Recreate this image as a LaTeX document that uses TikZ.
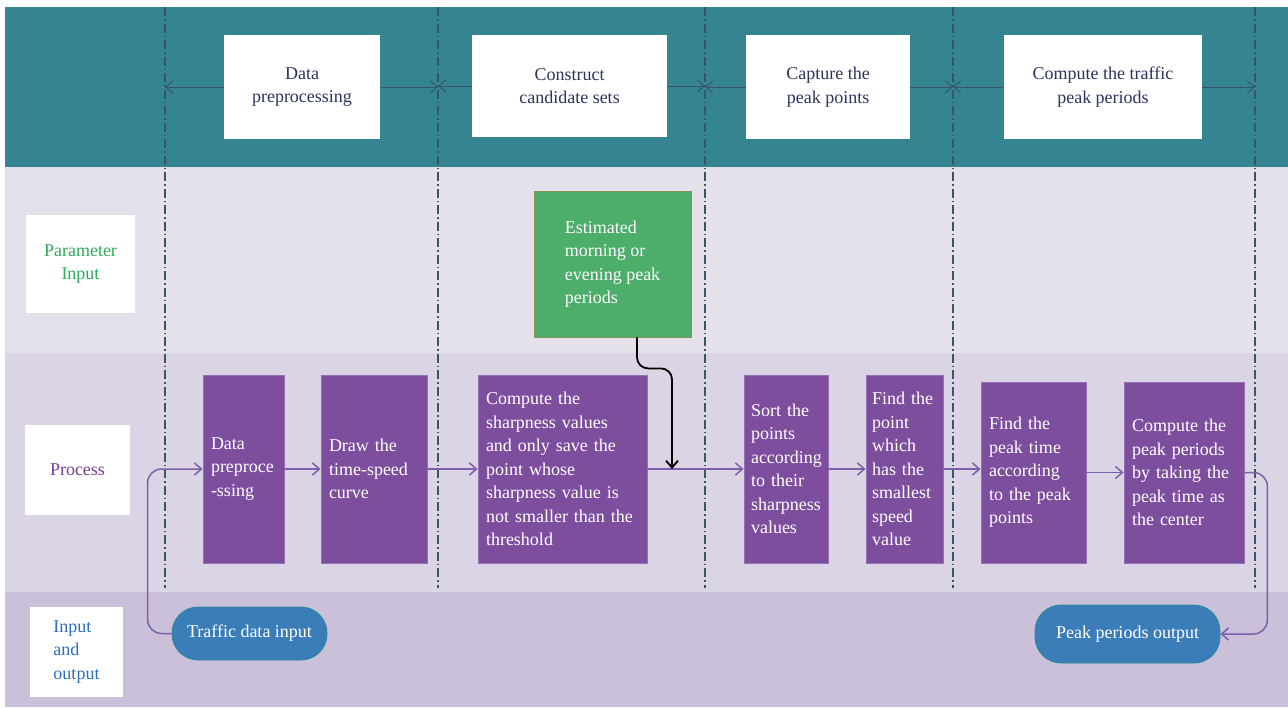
\documentclass[tikz,border=0pt]{standalone}
\usepackage{fontspec}
\setmainfont{Liberation Serif}
\usetikzlibrary{positioning, arrows.meta}
\definecolor{laneteal}{RGB}{52,132,146}
\definecolor{laneparam}{RGB}{229,225,235}
\definecolor{laneproc}{RGB}{219,212,228}
\definecolor{laneio}{RGB}{203,192,217}
\definecolor{procfill}{RGB}{126,78,158}
\definecolor{procline}{RGB}{150,112,180}
\definecolor{parfill}{RGB}{77,174,108}
\definecolor{parline}{RGB}{125,150,85}
\definecolor{iofill}{RGB}{58,125,185}
\definecolor{ioline}{RGB}{40,140,150}
\definecolor{flowline}{RGB}{125,95,170}
\definecolor{stagetext}{RGB}{45,50,95}
\definecolor{sepline}{RGB}{55,85,100}
\definecolor{partext}{RGB}{45,170,90}
\definecolor{proctext}{RGB}{120,60,150}
\definecolor{iotext}{RGB}{45,110,185}
\tikzset{
>={Straight Barb[length=7pt,width=12pt]}, % open arrow heads
every node/.style={font=\fontsize{18pt}{23.5pt}\selectfont}, % same serif everywhere
stagebox/.style={fill=white, text=stagetext, align=center, inner sep=0pt}, % boxes in the top lane
lanebox/.style={fill=white, align=center, inner sep=0pt}, % lane titles on the left
procbox/.style={fill=procfill, draw=procline, thick, text=white, align=left, inner xsep=8pt, inner ysep=0pt}, % process steps
parbox/.style={fill=parfill, draw=parline, thick, text=white, align=left, inner sep=0pt}, % parameter input
iobox/.style={fill=iofill, draw=ioline, thick, text=white, inner sep=0pt, rounded corners=26pt}, % input and output
lanesep/.style={draw=sepline, line width=1.2pt, dash pattern=on 9pt off 3pt on 1.5pt off 3pt}, % lane separators
stageflow/.style={draw=sepline, line width=1pt}, % arrows in the top lane
flow/.style={draw=flowline, line width=1.5pt}, % process flow
parflow/.style={draw=black, line width=1.8pt}, % parameter arrow
}
\begin{document}
\begin{tikzpicture}[x=1pt, y=-1pt]
    \useasboundingbox (0,0) rectangle (1288,707);
    % lanes
    \fill[laneteal] (5,7) rectangle (1288,167);
    \fill[laneparam] (5,167) rectangle (1288,353);
    \fill[laneproc] (5,353) rectangle (1288,592);
    \fill[laneio] (5,592) rectangle (1288,707);
    \foreach \d/\x in {d1/165, d2/438, d3/705, d4/953, d5/1255} {
        \coordinate (\d) at (\x,88);
        \draw[lanesep] (\x,7) -- (\x,588);
    }

    % lane titles
    \node[lanebox, text=partext, minimum width=109pt, minimum height=98pt] (lpar) at (80.5,264) {Parameter\\Input};
    \node[lanebox, text=proctext, minimum width=105pt, minimum height=90pt] (lproc) at (77.5,470) {Process};
    \node[lanebox, text=iotext, align=left, minimum width=93pt, minimum height=90pt] (lio) at (76.5,652) {Input\\and\\output};

    % stages
    \node[stagebox, minimum width=156pt, minimum height=104pt] (t1) at (302,87) {Data\\preprocessing};
    \node[stagebox, minimum width=195pt, minimum height=102pt] (t2) at (569.5,86) {Construct\\candidate sets};
    \node[stagebox, minimum width=164pt, minimum height=104pt] (t3) at (828,87) {Capture the\\peak points};
    \node[stagebox, minimum width=198pt, minimum height=104pt] (t4) at (1103,87) {Compute the traffic\\peak periods};
    \foreach \t/\l/\r in {t1/d1/d2, t2/d2/d3, t3/d3/d4, t4/d4/d5} {
        \draw[stageflow, ->] (\t.west) -- (\t.west -| \l);
        \draw[stageflow, ->] (\t.east) -- (\t.east -| \r);
    }

    % parameter input
    \node[parbox, minimum width=157pt, minimum height=146pt] (par) at (612.5,264) {Estimated\\morning or\\evening peak\\periods};

    % process steps
    \node[procbox, text width=65pt, minimum height=188pt] (b1) at (243.5,469) {Data\\preproce\\-ssing};
    \node[procbox, text width=90pt, minimum height=188pt] (b2) at (374,469) {Draw the\\time-speed\\curve};
    \node[procbox, text width=153pt, minimum height=188pt] (b3) at (562.5,469) {Compute the\\sharpness values\\and only save the\\point whose\\sharpness value is\\not smaller than the\\threshold};
    \node[procbox, text width=70pt, inner xsep=7pt, minimum height=188pt] (b4) at (786,469) {Sort the\\points\\according\\to their\\sharpness\\values};
    \node[procbox, text width=65pt, inner xsep=6pt, minimum height=188pt] (b5) at (904.5,469) {Find the\\point\\which\\has the\\smallest\\speed\\value};
    \node[procbox, text width=89pt, minimum height=181pt] (b6) at (1033.5,472.5) {Find the\\peak time\\according\\to the peak\\points};
    \node[procbox, text width=104pt, minimum height=181pt] (b7) at (1184,472.5) {Compute the\\peak periods\\by taking the\\peak time as\\the center};

    % input and output
    \node[iobox, minimum width=155pt, minimum height=53pt] (din) at (249.5,633.5) {Traffic data input};
    \node[iobox, minimum width=185pt, minimum height=58pt] (pout) at (1127.5,634) {Peak periods output};

    % flow
    \coordinate (join) at (672,469);
    \draw[flow, ->] (b1) edge (b2) (b2) edge (b3) (b3) edge (b4) (b4) edge (b5) (b6) edge (b7);
    \draw[flow, ->] (b5.east) -- (b5.east -| b6.west);
    \draw[flow, ->, rounded corners=14pt] (din.west) -- ++(-24,0) |- (b1.west);
    \draw[flow, ->, rounded corners=14pt] (b7.east) -- ++(23,0) |- (pout.east);
    \draw[parflow, ->, rounded corners=11pt] ([xshift=24.5pt]par.south) -- ++(0,31) -| (join);
\end{tikzpicture}
\end{document}
